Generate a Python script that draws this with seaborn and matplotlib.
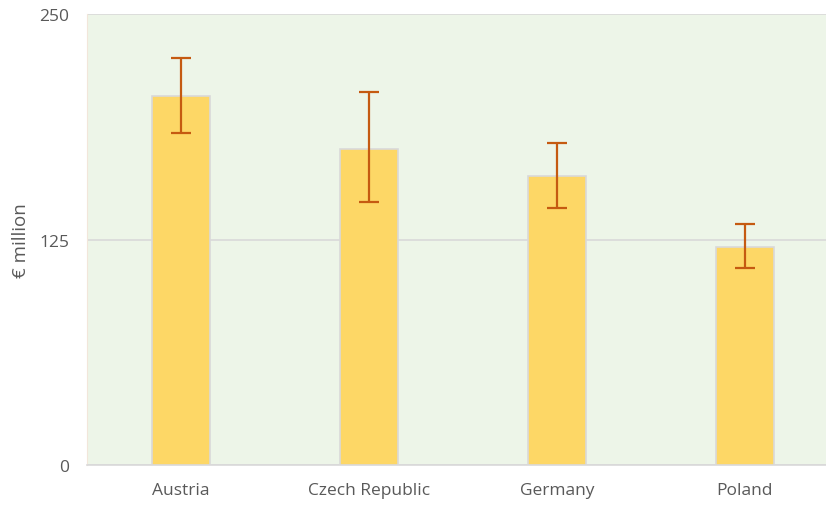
import pandas as pd
import matplotlib.pyplot as plt
import seaborn as sns

countries = ['Austria', 'Czech Republic', 'Germany', 'Poland']
values = [204.5, 175.4, 160.5, 121.1]
err_low = [20.1, 29.6, 17.7, 11.8]
err_high = [21.2, 31.7, 18.2, 12.6]


def create_chart():
    df = pd.DataFrame({'country': countries, 'value': values})

    sns.set_style('white')
    plt.rcParams['font.family'] = ['Open Sans', 'DejaVu Sans']

    fig = plt.figure(figsize=(8.26, 5.06), dpi=100)
    ax = fig.add_axes([0.1053, 0.079, 0.9104, 0.8904])
    ax.set_facecolor('#EDF5E8')

    sns.barplot(data=df, x='country', y='value', color='#FDD766', width=0.31,
                edgecolor='#D9D9D9', linewidth=1.2, saturation=1, ax=ax, zorder=3)
    ax.errorbar(countries, values, yerr=[err_low, err_high], fmt='none',
                ecolor='#C55A11', elinewidth=1.6, capsize=7.5, capthick=1.6, zorder=4)

    ax.set_ylim(0, 250)
    ax.set_xlim(-0.5, 3.5)
    ax.set_yticks([0, 125, 250])
    ax.yaxis.grid(True, color='#D9D9D9', linewidth=1.2, zorder=0)
    ax.set_axisbelow(True)

    for side in ['top', 'right']:
        ax.spines[side].set_visible(False)
    ax.spines['left'].set_color('#F2E6DA')
    ax.spines['bottom'].set_color('#D9D9D9')
    ax.spines['bottom'].set_linewidth(1.2)

    ax.tick_params(axis='both', length=0, labelsize=12.5, colors='#595959')
    ax.tick_params(axis='y', pad=13)
    ax.tick_params(axis='x', pad=12)
    ax.set_xlabel('')
    ax.set_ylabel('€ million', fontsize=13.5, color='#595959')
    ax.yaxis.set_label_coords(-0.076, 0.5)

    fig.savefig('out.png', dpi=100)


if __name__ == "__main__":
    create_chart()
